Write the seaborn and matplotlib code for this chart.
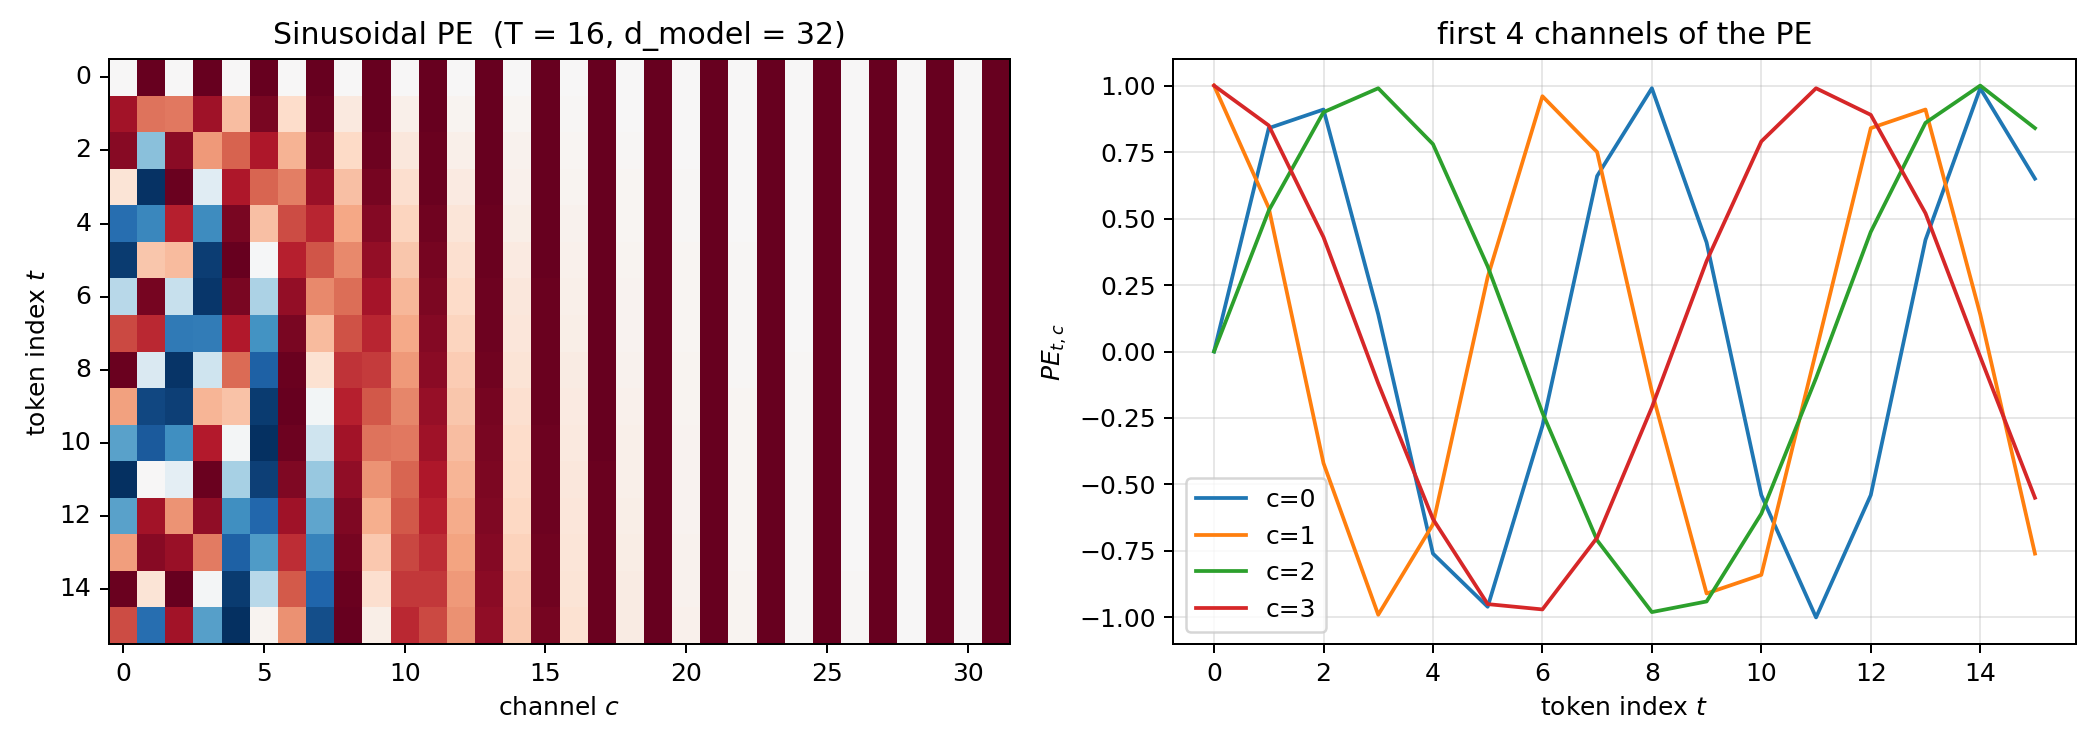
import numpy as np
import seaborn as sns
import matplotlib
matplotlib.use("Agg")
import matplotlib.pyplot as plt

# --- values (one list per channel, rows = token index 0..15) ---
token_index = [0, 1, 2, 3, 4, 5, 6, 7, 8, 9, 10, 11, 12, 13, 14, 15]

pe_by_channel = [
    [0.00, 0.84, 0.91, 0.14, -0.76, -0.96, -0.28, 0.66, 0.99, 0.41, -0.54, -1.00, -0.54, 0.42, 0.99, 0.65],   # c=0
    [1.00, 0.54, -0.42, -0.99, -0.65, 0.28, 0.96, 0.75, -0.15, -0.91, -0.84, 0.00, 0.84, 0.91, 0.14, -0.76],  # c=1
    [0.00, 0.53, 0.90, 0.99, 0.78, 0.32, -0.23, -0.71, -0.98, -0.94, -0.61, -0.10, 0.45, 0.86, 1.00, 0.84],   # c=2
    [1.00, 0.85, 0.43, -0.12, -0.63, -0.95, -0.97, -0.70, -0.21, 0.34, 0.79, 0.99, 0.89, 0.52, -0.02, -0.55], # c=3
    [0.00, 0.31, 0.59, 0.81, 0.95, 1.00, 0.95, 0.80, 0.57, 0.29, -0.02, -0.33, -0.61, -0.82, -0.96, -1.00],   # c=4
    [1.00, 0.95, 0.81, 0.58, 0.30, -0.01, -0.32, -0.60, -0.82, -0.96, -1.00, -0.94, -0.79, -0.57, -0.28, 0.03],
    [0.00, 0.18, 0.35, 0.51, 0.65, 0.78, 0.88, 0.95, 0.99, 1.00, 0.98, 0.93, 0.85, 0.74, 0.61, 0.46],
    [1.00, 0.98, 0.94, 0.86, 0.76, 0.63, 0.48, 0.32, 0.15, -0.03, -0.21, -0.38, -0.53, -0.67, -0.80, -0.89],
    [0.00, 0.10, 0.20, 0.30, 0.39, 0.48, 0.56, 0.64, 0.72, 0.78, 0.84, 0.89, 0.93, 0.96, 0.99, 1.00],         # c=8
    [1.00, 1.00, 0.98, 0.96, 0.92, 0.88, 0.83, 0.76, 0.70, 0.62, 0.54, 0.45, 0.36, 0.27, 0.17, 0.07],
    [0.00, 0.06, 0.11, 0.17, 0.22, 0.28, 0.33, 0.38, 0.43, 0.49, 0.53, 0.58, 0.62, 0.67, 0.71, 0.75],
    [1.00, 1.00, 0.99, 0.99, 0.97, 0.96, 0.94, 0.92, 0.90, 0.87, 0.85, 0.81, 0.78, 0.74, 0.71, 0.66],
    [0.00, 0.03, 0.06, 0.09, 0.13, 0.16, 0.19, 0.22, 0.25, 0.28, 0.31, 0.34, 0.37, 0.40, 0.43, 0.46],         # c=12
    [1.00, 1.00, 1.00, 1.00, 0.99, 0.99, 0.98, 0.98, 0.97, 0.96, 0.95, 0.94, 0.93, 0.92, 0.90, 0.89],
    [0.00, 0.02, 0.04, 0.05, 0.07, 0.09, 0.11, 0.12, 0.14, 0.16, 0.18, 0.19, 0.21, 0.23, 0.25, 0.26],
    [1.00, 1.00, 1.00, 1.00, 1.00, 1.00, 0.99, 0.99, 0.99, 0.99, 0.98, 0.98, 0.98, 0.97, 0.97, 0.96],
    [0.00, 0.01, 0.02, 0.03, 0.04, 0.05, 0.06, 0.07, 0.08, 0.09, 0.10, 0.11, 0.12, 0.13, 0.14, 0.15],         # c=16
    [1.00, 1.00, 1.00, 1.00, 1.00, 1.00, 1.00, 1.00, 1.00, 1.00, 1.00, 0.99, 0.99, 0.99, 0.99, 0.99],
    [0.000, 0.006, 0.011, 0.017, 0.022, 0.028, 0.034, 0.039, 0.045, 0.051, 0.056, 0.062, 0.067, 0.073, 0.079, 0.084],
    [1.00, 1.00, 1.00, 1.00, 1.00, 1.00, 1.00, 1.00, 1.00, 1.00, 1.00, 1.00, 1.00, 1.00, 1.00, 1.00],
    [0.000, 0.003, 0.006, 0.009, 0.013, 0.016, 0.019, 0.022, 0.025, 0.028, 0.032, 0.035, 0.038, 0.041, 0.044, 0.047],  # c=20
    [1.00, 1.00, 1.00, 1.00, 1.00, 1.00, 1.00, 1.00, 1.00, 1.00, 1.00, 1.00, 1.00, 1.00, 1.00, 1.00],
    [0.000, 0.002, 0.004, 0.005, 0.007, 0.009, 0.011, 0.012, 0.014, 0.016, 0.018, 0.020, 0.021, 0.023, 0.025, 0.027],
    [1.00, 1.00, 1.00, 1.00, 1.00, 1.00, 1.00, 1.00, 1.00, 1.00, 1.00, 1.00, 1.00, 1.00, 1.00, 1.00],
    [0.000, 0.001, 0.002, 0.003, 0.004, 0.005, 0.006, 0.007, 0.008, 0.009, 0.010, 0.011, 0.012, 0.013, 0.014, 0.015],  # c=24
    [1.00, 1.00, 1.00, 1.00, 1.00, 1.00, 1.00, 1.00, 1.00, 1.00, 1.00, 1.00, 1.00, 1.00, 1.00, 1.00],
    [0.000, 0.001, 0.001, 0.002, 0.002, 0.003, 0.003, 0.004, 0.004, 0.005, 0.006, 0.006, 0.007, 0.007, 0.008, 0.008],
    [1.00, 1.00, 1.00, 1.00, 1.00, 1.00, 1.00, 1.00, 1.00, 1.00, 1.00, 1.00, 1.00, 1.00, 1.00, 1.00],
    [0.000, 0.000, 0.001, 0.001, 0.001, 0.002, 0.002, 0.002, 0.003, 0.003, 0.003, 0.003, 0.004, 0.004, 0.004, 0.005],  # c=28
    [1.00, 1.00, 1.00, 1.00, 1.00, 1.00, 1.00, 1.00, 1.00, 1.00, 1.00, 1.00, 1.00, 1.00, 1.00, 1.00],
    [0.000, 0.000, 0.000, 0.001, 0.001, 0.001, 0.001, 0.001, 0.001, 0.002, 0.002, 0.002, 0.002, 0.002, 0.002, 0.003],
    [1.00, 1.00, 1.00, 1.00, 1.00, 1.00, 1.00, 1.00, 1.00, 1.00, 1.00, 1.00, 1.00, 1.00, 1.00, 1.00],
]

line_channels = [0, 1, 2, 3]
channel_ticks = [0, 5, 10, 15, 20, 25, 30]
token_ticks = [0, 2, 4, 6, 8, 10, 12, 14]

# rows = tokens, cols = channels
pe = np.array(pe_by_channel).T

DPI = 180
W, H = 2093, 747
fig = plt.figure(figsize=(W / DPI, H / DPI), dpi=DPI)
ax1 = fig.add_axes([109 / W, 103 / H, 901 / W, 585 / H])
ax2 = fig.add_axes([1173 / W, 103 / H, 903 / W, 585 / H])

# --- left: heatmap ---
sns.heatmap(pe, cmap="RdBu_r", vmin=-1, vmax=1, cbar=False, ax=ax1)
ax1.set_xticks([c + 0.5 for c in channel_ticks])
ax1.set_xticklabels([str(c) for c in channel_ticks], rotation=0)
ax1.set_yticks([t + 0.5 for t in token_ticks])
ax1.set_yticklabels([str(t) for t in token_ticks], rotation=0)
ax1.tick_params(length=3.5, width=0.8)
for s in ax1.spines.values():
    s.set_visible(True)
    s.set_linewidth(0.8)
ax1.set_title("Sinusoidal PE  (T = 16, d_model = 32)")
ax1.set_xlabel("channel $c$")
ax1.set_ylabel("token index $t$")

# --- right: first channels as lines ---
for c in line_channels:
    sns.lineplot(x=token_index, y=pe_by_channel[c], label=f"c={c}", ax=ax2)
ax2.grid(True, alpha=0.3)
ax2.set_xticks(token_ticks)
ax2.set_title("first 4 channels of the PE")
ax2.set_xlabel("token index $t$")
ax2.set_ylabel("$PE_{t,c}$")
ax2.legend(loc="lower left")

fig.savefig("out.png", dpi=DPI)
